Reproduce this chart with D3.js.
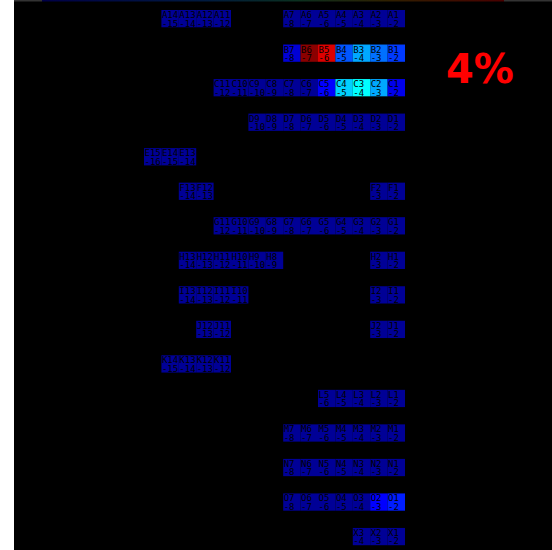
<!DOCTYPE html>
<html><head><meta charset="utf-8">
<script src="https://cdn.jsdelivr.net/npm/d3@7"></script>
<style>html,body{margin:0;padding:0;background:#fff;}svg{display:block;}</style>
</head><body>
<script>
// ---- data ----
const rowNames = ["A","B","C","D","E","F","G","H","I","J","K","L","M","N","O","X"];
const columns = [15,14,13,12,11,10,9,8,7,6,5,4,3,2,1];
const cellIndex = [
  [14,13,12,11,7,6,5,4,3,2,1],
  [7,6,5,4,3,2,1],
  [11,10,9,8,7,6,5,4,3,2,1],
  [9,8,7,6,5,4,3,2,1],
  [15,14,13],
  [13,12,2,1],
  [11,10,9,8,7,6,5,4,3,2,1],
  [13,12,11,10,9,8,2,1],
  [13,12,11,10,2,1],
  [12,11,2,1],
  [14,13,12,11],
  [5,4,3,2,1],
  [7,6,5,4,3,2,1],
  [7,6,5,4,3,2,1],
  [7,6,5,4,3,2,1],
  [3,2,1]
];
const cellValues = [
  [-15,-14,-13,-12,-8,-7,-6,-5,-4,-3,-2],
  [-8,-7,-6,-5,-4,-3,-2],
  [-12,-11,-10,-9,-8,-7,-6,-5,-4,-3,-2],
  [-10,-9,-8,-7,-6,-5,-4,-3,-2],
  [-16,-15,-14],
  [-14,-13,-3,-2],
  [-12,-11,-10,-9,-8,-7,-6,-5,-4,-3,-2],
  [-14,-13,-12,-11,-10,-9,-3,-2],
  [-14,-13,-12,-11,-3,-2],
  [-13,-12,-3,-2],
  [-15,-14,-13,-12],
  [-6,-5,-4,-3,-2],
  [-8,-7,-6,-5,-4,-3,-2],
  [-8,-7,-6,-5,-4,-3,-2],
  [-8,-7,-6,-5,-4,-3,-2],
  [-4,-3,-2]
];
const cellHeat = [
  [0,0,0,0,0,0,0,0,0,0,0],
  [0.6,-1,-2,1.9,2.9,2.2,1.6],
  [0,0,0,0,0,0,1,3.4,4,2.9,0.8],
  [0,0,0,0,0,0,0,0,0],
  [0,0,0],
  [0,0,0,0],
  [0,0,0,0,0,0,0,0,0,0,0],
  [0,0,0,0,0,0,0,0],
  [0,0,0,0,0,0],
  [0,0,0,0],
  [0,0,0,0],
  [0,0,0,0,0],
  [0,0,0,0,0,0,0],
  [0,0,0,0,0,0,0],
  [0,0,0,0,0,1,1.3],
  [0,0,0]
];
const headline = "4%";

// ---- drawing ----
const W = 552, H = 550;
const svg = d3.select("body").append("svg").attr("width", W).attr("height", H);
svg.append("rect").attr("x", 14).attr("y", 0).attr("width", W - 14).attr("height", H).attr("fill", "#000");

// thin colour strip at the top
const defs = svg.append("defs");
const grad = defs.append("linearGradient").attr("id", "topgrad");
[["0%","#000048"],["35%","#001a40"],["55%","#0a3020"],["75%","#302000"],["100%","#4a0000"]]
  .forEach(([o,c]) => grad.append("stop").attr("offset", o).attr("stop-color", c));
svg.append("rect").attr("x", 14).attr("y", 0).attr("width", 28).attr("height", 1.5).attr("fill", "#333");
svg.append("rect").attr("x", 42).attr("y", 0).attr("width", 462).attr("height", 1.5).attr("fill", "url(#topgrad)");
svg.append("rect").attr("x", 504).attr("y", 0).attr("width", 48).attr("height", 1.5).attr("fill", "#333");

const x = d3.scaleBand().domain(columns).range([144, 405]).padding(0);
const y = d3.scaleBand().domain(rowNames).range([10, 10 + 16 * 34.53]).padding(0);
const cellH = y.bandwidth() / 2;
const color = d3.scaleLinear()
  .domain([-2, -1, 0, 1, 2, 3, 4])
  .range(["#dd0000", "#8b0000", "#000096", "#0000ff", "#0060ff", "#00b0ff", "#00ffff"]);

const cells = [];
rowNames.forEach((r, i) => {
  cellIndex[i].forEach((k, j) => {
    cells.push({row: r, col: k, label: r + k, value: cellValues[i][j], heat: cellHeat[i][j]});
  });
});

const g = svg.append("g").selectAll("g").data(cells).join("g")
  .attr("transform", d => `translate(${x(d.col)},${y(d.row)})`);
g.append("rect").attr("width", x.bandwidth()).attr("height", cellH).attr("fill", d => color(d.heat));
g.append("text").attr("x", 0.5).attr("y", 8)
  .attr("font-family", "DejaVu Sans Mono").attr("font-size", 9).attr("fill", "#000")
  .text(d => d.label);
g.append("text").attr("x", 0.5).attr("y", 16.5)
  .attr("font-family", "DejaVu Sans Mono").attr("font-size", 9).attr("fill", "#000")
  .text(d => String(d.value));

svg.append("text").attr("x", 446).attr("y", 83)
  .attr("font-family", "DejaVu Sans, sans-serif").attr("font-weight", "bold")
  .attr("font-size", 40).attr("fill", "#ff0000").text(headline);
</script>
</body></html>
